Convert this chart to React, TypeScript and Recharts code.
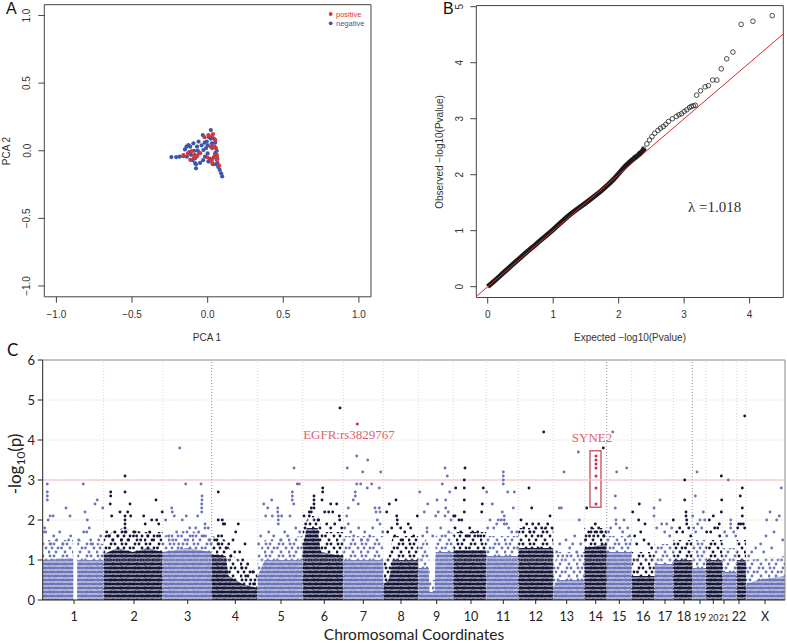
import React from 'react';
import { ComposedChart, Scatter, Line, Area, XAxis, YAxis, ReferenceLine, ReferenceArea } from 'recharts';

// ---------------- Panel A : PCA ----------------
const pcaTicks = [-1, -0.5, 0, 0.5, 1];
const pcaNegative: [number, number][] = [
  [-0.24, -0.047], [-0.208, -0.047], [-0.185, -0.044], [-0.16, -0.04], [-0.137, -0.044], [-0.127, 0.042],
  [-0.115, 0.03], [-0.12, -0.01], [-0.094, 0.055], [-0.083, -0.055], [-0.1, -0.07], [-0.077, -0.1],
  [-0.077, -0.13], [-0.06, 0.068], [-0.07, 0.03], [-0.05, -0.09], [-0.032, 0.116], [-0.028, 0.005],
  [-0.04, 0.04], [-0.02, 0.06], [-0.006, 0.068], [-0.01, 0.02], [0.0, -0.02], [0.005, -0.08],
  [-0.017, -0.044], [0.021, 0.153], [0.028, 0.055], [0.02, 0.09], [0.01, 0.1], [0.05, -0.018],
  [0.045, 0.03], [0.04, -0.05], [0.065, -0.091], [0.06, -0.04], [0.055, -0.1], [0.08, -0.142],
  [0.089, -0.167], [0.096, -0.19], [0.07, -0.12], [-0.083, -0.091], [-0.15, 0.01], [-0.14, 0.03],
  [-0.11, -0.03], [0.03, 0.02], [0.0, 0.04], [-0.03, -0.07], [0.015, -0.06], [0.035, -0.1],
  [0.06, 0.0], [0.05, 0.06], [-0.055, -0.02], [-0.09, 0.0], [-0.065, 0.0], [0.04, 0.09],
];
const pcaPositive: [number, number][] = [
  [-0.16, -0.032], [-0.105, -0.003], [-0.05, -0.018], [0.005, 0.116], [0.035, 0.123], [0.04, 0.03],
  [0.028, -0.067], [0.06, -0.067], [-0.115, -0.067], [-0.085, -0.03], [-0.07, -0.04], [0.05, 0.08],
  [0.055, 0.02], [0.045, -0.04], [0.03, -0.09], [0.06, -0.03], [0.075, -0.11], [0.02, 0.03],
  [-0.02, 0.1], [0.0, -0.05], [0.065, -0.06], [-0.09, -0.05], [0.03, 0.11], [-0.13, -0.02],
];
const pcaLegend = [
  { label: 'positive', color: '#d93535' },
  { label: 'negative', color: '#3d58a8' },
];

// ---------------- Panel B : QQ ----------------
const qqTicksX = [0, 1, 2, 3, 4];
const qqTicksY = [0, 1, 2, 3, 4, 5];
const qqDense: [number, number][] = [
  [0, 0], [0.1, 0.1], [0.25, 0.26], [0.5, 0.52], [0.75, 0.77], [1.0, 1.02], [1.25, 1.28],
  [1.5, 1.5], [1.75, 1.73], [1.9, 1.89], [2.0, 2.02], [2.1, 2.15], [2.2, 2.26], [2.3, 2.35], [2.4, 2.47],
];
const qqTail: [number, number][] = [
  [2.25, 2.31], [2.32, 2.38], [2.38, 2.46], [2.43, 2.55], [2.47, 2.62], [2.51, 2.68], [2.55, 2.74],
  [2.6, 2.79], [2.64, 2.83], [2.68, 2.86], [2.72, 2.9], [2.76, 2.95], [2.82, 3.0], [2.88, 3.04],
  [2.92, 3.07], [2.96, 3.09], [3.0, 3.13], [3.04, 3.16], [3.08, 3.2], [3.11, 3.22], [3.14, 3.23],
  [3.17, 3.24], [3.19, 3.42], [3.25, 3.5], [3.32, 3.57], [3.37, 3.59], [3.435, 3.69], [3.5, 3.69],
  [3.567, 3.89], [3.65, 4.07], [3.745, 4.19], [3.87, 4.685], [4.05, 4.74], [4.345, 4.84],
];
const qqLambda = 'λ =1.018';

// ---------------- Panel C : Manhattan ----------------
const chromosomeLabels = ['1', '2', '3', '4', '5', '6', '7', '8', '9', '10', '11', '12', '13', '14', '15', '16', '17', '18', '19', '20', '21', '22', 'X'];
const chromosomeStarts = [0, 61, 120, 169, 215, 260, 300.6, 340.6, 375.6, 410.6, 443.5, 475.6, 510.6, 541.6, 564, 589, 612, 630.6, 649.6, 663.3, 680, 694, 703.3];
const genomeEnd = 742.3;
const chromosomeTickPos = [31.3, 91.3, 145, 192.6, 238.3, 281.6, 320.6, 358.3, 394, 428.3, 460.6, 493, 524, 553, 576.6, 600.6, 622.3, 641.3, 657.3, 670.6, 681.3, 696.3, 722.3];
const emphasisedBoundaries = [3, 14, 18];
const manhattanYTicks = [0, 1, 2, 3, 4, 5, 6];
const significanceLine = 3;

// dense band envelopes: [position, -log10 p]
const coreEnvelopes: number[][][] = [
  [[0, 1.0], [30.5, 1.05], [30.6, 0], [34.5, 0], [34.6, 1.0], [61, 1.0]],
  [[61, 1.15], [75, 1.3], [90, 1.2], [105, 1.3], [120, 1.2]],
  [[120, 1.2], [145, 1.3], [169, 1.2]],
  [[169, 1.15], [183, 1.1], [186, 0.6], [200, 0.4], [215, 0.3]],
  [[215, 0.6], [222, 1.0], [260, 1.0]],
  [[260, 1.3], [264, 1.8], [275, 1.8], [278, 1.2], [300.6, 1.1]],
  [[300.6, 1.0], [340.6, 1.0]],
  [[340.6, 0.4], [346, 0.5], [350, 1.0], [375.6, 1.0]],
  [[375.6, 0.8], [386, 0.8], [387, 0.2], [392, 0.2], [393, 1.2], [410.6, 1.2]],
  [[410.6, 1.25], [443.5, 1.25]],
  [[443.5, 1.1], [475.6, 1.1]],
  [[475.6, 1.3], [510.6, 1.3]],
  [[510.6, 0.3], [515, 0.5], [541.6, 0.5]],
  [[541.6, 1.3], [564, 1.4]],
  [[564, 1.2], [589, 1.2]],
  [[589, 0.6], [612, 0.6]],
  [[612, 0.9], [630.6, 0.9]],
  [[630.6, 1.0], [649.6, 1.0]],
  [[649.6, 0.8], [663.3, 0.8]],
  [[663.3, 1.0], [680, 1.0]],
  [[680, 0.7], [694, 0.7]],
  [[694, 1.0], [703.3, 1.0]],
  [[703.3, 0.4], [715, 0.5], [742.3, 0.6]],
];
const fringeEnvelopes: number[][][] = [
  [[0, 1.5], [30.5, 1.5], [30.6, 0], [34.5, 0], [34.6, 1.5], [61, 1.4]],
  [[61, 1.6], [80, 1.8], [100, 1.7], [120, 1.7]],
  [[120, 1.6], [145, 1.75], [169, 1.6]],
  [[169, 1.6], [183, 1.5], [190, 1.1], [205, 0.9], [215, 0.7]],
  [[215, 1.1], [222, 1.5], [260, 1.6]],
  [[260, 1.8], [266, 2.1], [276, 2.1], [280, 1.7], [300.6, 1.7]],
  [[300.6, 1.6], [340.6, 1.6]],
  [[340.6, 0.9], [346, 1.1], [350, 1.6], [375.6, 1.6]],
  [[375.6, 1.3], [386, 1.6], [387, 0.5], [392, 0.5], [393, 1.6], [410.6, 1.7]],
  [[410.6, 1.7], [443.5, 1.7]],
  [[443.5, 1.6], [475.6, 1.6]],
  [[475.6, 1.8], [510.6, 1.8]],
  [[510.6, 0.8], [515, 1.2], [541.6, 1.2]],
  [[541.6, 1.8], [564, 1.8]],
  [[564, 1.6], [589, 1.6]],
  [[589, 1.2], [612, 1.2]],
  [[612, 1.4], [630.6, 1.4]],
  [[630.6, 1.5], [649.6, 1.5]],
  [[649.6, 1.5], [663.3, 1.5]],
  [[663.3, 1.5], [680, 1.5]],
  [[680, 1.3], [694, 1.3]],
  [[694, 1.5], [703.3, 1.5]],
  [[703.3, 1.0], [742.3, 1.1]],
];
// individual SNPs above the dense band: [position, -log10 p]
const chromosomeSparse: number[][][] = [
  [[4.6, 2.9], [4.6, 2.7], [4.6, 2.6], [4.6, 2.5], [5.5, 2.0], [7.5, 2.1], [10.5, 2.1], [2, 1.8], [3, 1.7], [1, 1.7], [23.3, 2.3], [27.3, 2.1], [40.6, 2.9], [42.3, 2.2], [44.6, 2.0], [46.6, 1.8], [52.3, 2.4], [54.6, 2.5], [60, 2.3], [11, 1.6], [17, 1.7], [28, 1.6], [41, 1.7], [44, 1.7], [58, 1.6], [14, 1.5], [20, 1.4], [36, 1.5], [48, 1.5], [50, 1.4], [8, 1.4], [26, 1.5], [56, 1.5]],
  [[82.3, 3.1], [82.3, 2.7], [68, 2.7], [68, 2.6], [67.5, 2.4], [69, 2.1], [77.3, 2.2], [82.3, 2.1], [82.3, 2.0], [82.3, 1.9], [82.3, 1.8], [82.3, 1.7], [85, 2.2], [88, 2.1], [87.3, 2.4], [101, 2.1], [102.5, 1.9], [113.3, 2.5], [114, 2.0], [116, 1.9], [119.5, 2.2], [109, 2.0], [64, 1.7], [66, 1.6], [72, 1.7], [75, 1.6], [79, 1.5], [91, 1.7], [94, 1.6], [98, 1.5], [105, 1.6], [107, 1.7], [111, 1.5], [117, 1.6], [70, 1.5], [86, 1.5]],
  [[137, 3.8], [143, 2.9], [158.3, 2.9], [159.3, 2.6], [159.3, 2.5], [159, 2.4], [159, 2.3], [159, 2.2], [129, 2.3], [129.6, 2.2], [131.6, 2.1], [143.6, 2.1], [155, 2.1], [123, 2.0], [139.6, 2.0], [162.3, 1.9], [162.3, 1.8], [147, 1.8], [153, 1.8], [165.6, 1.8], [126, 1.6], [134, 1.7], [150, 1.6], [156, 1.7], [161, 1.6], [145, 1.5], [130, 1.5], [167, 1.5], [136, 1.4]],
  [[175.6, 2.7], [175.6, 2.0], [179.6, 2.0], [182, 1.9], [180.6, 1.9], [195.6, 1.9], [193, 1.7], [179, 1.6], [175.6, 1.6], [190.3, 1.5], [202.3, 1.4], [172, 1.5], [176, 1.4], [186, 1.4], [192, 1.2], [197, 1.2], [200, 1.0], [205, 0.9], [210, 0.7], [208, 0.5], [188, 1.1], [184, 1.3], [199, 0.8], [203, 0.6], [206, 0.3], [212, 0.4]],
  [[221, 2.4], [225, 2.3], [229, 2.5], [223, 2.1], [229.6, 2.1], [235, 2.3], [235, 2.2], [235.6, 2.1], [235.6, 2.0], [235.6, 1.9], [239, 2.1], [251.3, 3.3], [249.6, 2.7], [249.6, 2.6], [249.6, 2.5], [251, 2.4], [254.6, 2.9], [256.6, 2.9], [247.3, 2.1], [218, 1.6], [226, 1.7], [231, 1.6], [242, 1.7], [245, 1.6], [253, 1.8], [257, 1.7], [238, 1.5], [216, 1.4]],
  [[297.3, 4.8], [280, 2.8], [280, 2.7], [279.3, 2.5], [271.3, 2.6], [271.3, 2.5], [271.3, 2.4], [271.3, 2.3], [268.6, 2.3], [268.6, 2.2], [266.6, 2.2], [266.6, 2.1], [288, 2.4], [294, 2.4], [282, 2.2], [286, 2.2], [290, 2.2], [296.6, 2.1], [261.3, 2.1], [297, 2.0], [292, 1.9], [276, 2.0], [284, 1.9], [263, 1.9], [288, 1.8], [299, 1.8]],
  [[314, 3.6], [325, 3.5], [304.6, 3.3], [320, 3.2], [338, 3.2], [314, 2.9], [318, 2.9], [329, 2.9], [324.6, 2.8], [336.6, 2.8], [312.6, 2.7], [312.6, 2.6], [310.6, 2.5], [315.6, 2.4], [305.6, 2.3], [332.3, 2.3], [336.6, 2.3], [333.3, 2.2], [337.3, 2.2], [304, 2.1], [305.6, 1.9], [334.6, 2.0], [337.3, 1.9], [302, 1.8], [308, 1.7], [316, 1.8], [322, 1.7], [327, 1.6], [330, 1.8], [340, 1.7], [311, 1.6], [319, 1.5], [325, 1.5]],
  [[353.3, 2.5], [346.6, 2.4], [344, 2.2], [354, 2.1], [354.6, 2.0], [354.6, 1.9], [374.6, 2.1], [365.6, 1.9], [349, 1.8], [358, 1.8], [362, 1.7], [368, 1.8], [371, 1.6], [345, 1.7], [352, 1.6], [360, 1.5]],
  [[402.3, 3.3], [404.6, 3.1], [399.6, 2.9], [377, 2.7], [407, 2.7], [385, 2.4], [394.3, 2.5], [403, 2.5], [403, 2.3], [405.6, 2.2], [402.3, 2.1], [381.6, 2.2], [393, 2.1], [395.6, 2.2], [408.3, 2.0], [384.3, 1.8], [384.3, 1.7], [398, 1.8], [390, 1.6], [406, 1.7], [380, 1.6]],
  [[422.3, 3.3], [421.6, 3.0], [421.6, 2.8], [421.6, 2.5], [421.6, 2.2], [413, 2.8], [411, 2.1], [412.3, 2.1], [416.3, 2.0], [419, 2.0], [412.3, 1.8], [440.6, 2.8], [439.6, 2.4], [439, 2.2], [432, 1.6], [438, 1.6], [427, 1.8], [435, 1.7], [418, 1.7], [425, 1.6], [430, 1.7]],
  [[460.6, 3.2], [460.6, 3.1], [460.6, 3.0], [460.6, 2.9], [444, 2.7], [449.6, 2.4], [465, 2.7], [471.6, 2.7], [470.6, 2.3], [459.6, 2.2], [461.6, 2.1], [458.6, 2.0], [461.6, 2.0], [461.6, 1.9], [455.6, 2.0], [447.3, 2.0], [454, 1.9], [445, 1.8], [451, 1.8], [466, 1.8], [469, 1.7], [474, 1.7], [464, 1.9]],
  [[486.3, 2.8], [489, 2.3], [478.3, 2.0], [487, 1.7], [499, 1.8], [501, 4.2], [507.3, 2.1], [509.3, 1.8], [481, 1.8], [484, 1.9], [493, 1.8], [496, 1.9], [503, 1.8], [505, 1.9], [490, 1.9]],
  [[535.6, 3.7], [521.3, 3.2], [516.6, 2.3], [518.6, 2.3], [536.6, 2.0], [532, 1.6], [523.3, 1.5], [517, 1.4], [527, 1.3], [530, 1.4], [514, 1.2], [538, 1.4], [520, 1.1], [534, 1.2]],
  [[544, 2.3], [560.6, 3.8], [552.6, 1.9], [549, 1.8], [556, 1.8], [558, 1.7], [546, 1.7], [554, 1.7], [551, 1.6], [561, 1.6], [543, 1.5]],
  [[570, 4.2], [574, 3.2], [584, 3.3], [572.6, 2.6], [572.6, 2.3], [573.3, 2.0], [573.3, 1.9], [581.3, 2.0], [568, 1.8], [577, 1.8], [585, 1.8], [566, 1.7], [580, 1.7], [587, 1.6]],
  [[596.6, 2.4], [590, 2.2], [596, 2.0], [602.3, 1.9], [601.3, 1.5], [592, 1.6], [598, 1.7], [606, 1.4], [609, 1.3], [594, 1.4]],
  [[617.3, 2.5], [611.3, 2.3], [611.3, 2.1], [619, 1.9], [624, 1.9], [614, 1.8], [622, 1.7], [627, 1.6], [629, 1.8]],
  [[642, 3.0], [642, 2.5], [643.3, 2.2], [643.3, 2.1], [644, 2.0], [644, 1.9], [630.6, 2.0], [637, 1.8], [640, 1.7], [646, 1.8], [634, 1.7], [648, 1.6]],
  [[654.3, 3.2], [652.6, 2.6], [650, 2.1], [660.6, 2.2], [657.3, 2.0], [662, 2.0], [655, 1.9], [651, 1.8], [659, 1.8], [653, 1.7]],
  [[678.6, 3.1], [670.6, 2.1], [678.6, 2.2], [666.6, 2.0], [676.6, 1.9], [679, 2.5], [672, 1.8], [668, 1.7], [675, 1.8], [664, 1.7], [677, 1.6]],
  [[685.6, 3.0], [688, 2.0], [688, 1.9], [688, 1.8], [682, 1.7], [691, 1.7], [684, 1.6], [693, 1.6]],
  [[702, 4.6], [699.6, 2.8], [697.6, 2.6], [699.6, 2.3], [699.6, 2.1], [696, 1.9], [698, 1.9], [700.6, 1.9], [702, 1.8], [695, 1.8]],
  [[738.6, 2.8], [727.3, 2.2], [724, 2.0], [736.6, 2.1], [731.3, 1.7], [723.3, 1.6], [734, 2.0], [718, 1.4], [713, 1.3], [740, 1.5], [709, 1.2], [729, 1.3], [721, 1.2], [706, 1.1]],
];
const highlightedSnps: [number, number][] = [
  [314.6, 4.4],
  [553.3, 3.6], [553.3, 3.5], [553.3, 3.4], [553.3, 3.3], [553.3, 3.1], [553.3, 2.8], [553.3, 2.4],
];
const annotations = [
  { x: 306.3, y: 4.15, label: 'EGFR:rs3829767' },
  { x: 549.3, y: 4.06, label: 'SYNE2' },
];
const syne2Box = { x1: 547.3, x2: 558.3, y1: 2.32, y2: 3.73 };

// ---------------- styling ----------------
const SANS = 'Liberation Sans, Arial, Helvetica, sans-serif';
const GILL = 'Lato, "Open Sans", sans-serif';
const SERIF = 'Liberation Serif, "Times New Roman", serif';
const BLUE = '#6c76b8';
const DARK = '#17173b';

const xy = (arr: number[][]) => arr.map(([x, y]) => ({ x, y }));
const fmtPca = (v: number) => (v < 0 ? '\u2212' + Math.abs(v).toFixed(1) : v.toFixed(1));

const blueSparse = xy(chromosomeSparse.filter((_, i) => i % 2 === 0).flat());
const darkSparse = xy(chromosomeSparse.filter((_, i) => i % 2 === 1).flat());

// one table for the band areas: a row per envelope position, a column per chromosome
const bandRows: any[] = (() => {
  const rows = new Map<number, any>();
  const put = (envs: number[][][], prefix: string) =>
    envs.forEach((env, i) =>
      env.forEach(([x, y]) => {
        const r = rows.get(x) ?? { x };
        r[prefix + i] = y;
        rows.set(x, r);
      })
    );
  put(fringeEnvelopes, 'f');
  put(coreEnvelopes, 'c');
  return [...rows.values()].sort((a, b) => a.x - b.x);
})();

const smallDot = (r: number) => (p: any) => <circle cx={p.cx} cy={p.cy} r={r} fill={p.fill} />;
const openCircle = (p: any) => <circle cx={p.cx} cy={p.cy} r={2.3} fill="none" stroke="#222" strokeWidth={0.8} />;
const annotationShape = (p: any) => (
  <text x={p.cx} y={p.cy} textAnchor="middle" dominantBaseline="central" fontFamily={SERIF} fontSize={13} fill="#e0606c">
    {p.payload.label}
  </text>
);

function PanelA() {
  const XTick = (p: any) => (
    <text x={p.x} y={314} textAnchor="middle" dominantBaseline="central" fontSize={10} fill="#333" fontFamily={SANS}>{fmtPca(p.payload.value)}</text>
  );
  const YTick = (p: any) => (
    <text x={27} y={p.y} transform={`rotate(-90 27 ${p.y})`} textAnchor="middle" dominantBaseline="central" fontSize={10} fill="#333" fontFamily={SANS}>{fmtPca(p.payload.value)}</text>
  );
  return (
    <ComposedChart width={390} height={350} margin={{ top: 4.7, left: 14.3, right: 19, bottom: 23.2 }}>
      <XAxis type="number" dataKey="x" domain={[-1.08, 1.08]} ticks={pcaTicks} interval={0} allowDataOverflow height={30} axisLine={false} tickSize={6} tickLine={{ stroke: '#444' }} tick={XTick} />
      <YAxis type="number" dataKey="y" domain={[-1.08, 1.08]} ticks={pcaTicks} interval={0} allowDataOverflow width={30} axisLine={false} tickSize={6} tickLine={{ stroke: '#444' }} tick={YTick} />
      <ReferenceArea x1={-1.08} x2={1.08} y1={-1.08} y2={1.08} fill="none" stroke="#444" strokeWidth={1} ifOverflow="visible" />
      <Scatter data={xy(pcaNegative)} fill="#3d58a8" shape={smallDot(2.1)} isAnimationActive={false} />
      <Scatter data={xy(pcaPositive)} fill="#d93535" shape={smallDot(2.1)} isAnimationActive={false} />
      {pcaLegend.map((l, i) => (
        <g key={l.label}>
          <circle cx={330.7} cy={14 + i * 9.3} r={1.9} fill={l.color} />
          <text x={336} y={14 + i * 9.3} dominantBaseline="central" fontSize={7.5} fill={l.color} fontFamily={SANS}>{l.label}</text>
        </g>
      ))}
      <text x={6} y={14} fontSize={16} fontFamily={SANS} fill="#111">A</text>
      <text x={207} y={337} textAnchor="middle" dominantBaseline="central" fontSize={10} fill="#333" fontFamily={SANS}>PCA 1</text>
      <text x={6} y={151} transform="rotate(-90 6 151)" textAnchor="middle" dominantBaseline="central" fontSize={10} fill="#333" fontFamily={SANS}>PCA 2</text>
    </ComposedChart>
  );
}

function PanelB() {
  const XTick = (p: any) => (
    <text x={p.x} y={314} textAnchor="middle" dominantBaseline="central" fontSize={10} fill="#333" fontFamily={SANS}>{p.payload.value}</text>
  );
  const YTick = (p: any) => (
    <text x={70} y={p.y} transform={`rotate(-90 70 ${p.y})`} textAnchor="middle" dominantBaseline="central" fontSize={10} fill="#333" fontFamily={SANS}>{p.payload.value}</text>
  );
  return (
    <ComposedChart width={397} height={350} margin={{ top: 5.6, left: 56.3, right: 3.7, bottom: 22.5 }}>
      <XAxis type="number" dataKey="x" domain={[-0.174, 4.514]} ticks={qqTicksX} interval={0} allowDataOverflow height={30} axisLine={false} tickSize={6} tickLine={{ stroke: '#444' }} tick={XTick} />
      <YAxis type="number" dataKey="y" domain={[-0.193, 5.02]} ticks={qqTicksY} interval={0} allowDataOverflow width={30} axisLine={false} tickSize={6} tickLine={{ stroke: '#444' }} tick={YTick} />
      <ReferenceArea x1={-0.174} x2={4.514} y1={-0.193} y2={5.02} fill="none" stroke="#444" strokeWidth={1} ifOverflow="visible" />
      <Line data={xy(qqDense)} dataKey="y" type="monotone" stroke="#1a1a1a" strokeWidth={5} dot={false} isAnimationActive={false} />
      <Scatter data={xy(qqTail)} shape={openCircle} isAnimationActive={false} />
      <ReferenceLine segment={[{ x: -0.174, y: -0.174 }, { x: 4.514, y: 4.514 }]} stroke="#d42a2a" strokeWidth={1} ifOverflow="hidden" />
      <text x={298} y={207} dominantBaseline="central" fontSize={15} fill="#333" fontFamily={SERIF}>{qqLambda}</text>
      <text x={53} y={14} fontSize={16} fontFamily={SANS} fill="#111">B</text>
      <text x={240} y={337} textAnchor="middle" dominantBaseline="central" fontSize={10} fill="#333" fontFamily={SANS}>Expected {'\u2212'}log10(Pvalue)</text>
      <text x={49} y={152} transform="rotate(-90 49 152)" textAnchor="middle" dominantBaseline="central" fontSize={10} fill="#333" fontFamily={SANS}>Observed {'\u2212'}log10(Pvalue)</text>
    </ComposedChart>
  );
}

function PanelC() {
  const labelSize = 12.5;
  const XTick = (p: any) => {
    const i = p.index;
    const lab = chromosomeLabels[i];
    const left = i > 0 ? chromosomeTickPos[i] - chromosomeTickPos[i - 1] : 99;
    const right = i < chromosomeTickPos.length - 1 ? chromosomeTickPos[i + 1] - chromosomeTickPos[i] : 99;
    const avail = Math.min(left, right) - 0.6;
    const fs = Math.min(labelSize, avail / (lab.length * 0.58));
    return (
      <text x={p.x} y={281} textAnchor="middle" fontSize={fs} fill="#222" fontFamily={GILL}>{lab}</text>
    );
  };
  const YTick = (p: any) => (
    <text x={35} y={p.y} textAnchor="end" dominantBaseline="central" fontSize={13} fill="#222" fontFamily={GILL}>{p.payload.value}</text>
  );
  const FRINGE_DOTS = [[2, 2], [6, 2], [15, 2], [19, 2], [4, 6], [10, 6], [13.5, 6], [22, 6], [1, 10], [8, 10], [17, 10]];
  return (
    <ComposedChart width={787} height={303} data={bandRows} margin={{ top: 20, left: 2.7, right: 2, bottom: 13 }}>
      <defs>
        <pattern id="coreB" patternUnits="userSpaceOnUse" x="0" y="-2" width="4" height="4">
          <rect x="0" y="0.5" width="4" height="3" fill={BLUE} />
        </pattern>
        <pattern id="coreD" patternUnits="userSpaceOnUse" x="0" y="-2" width="4" height="4">
          <rect x="0" y="0.5" width="4" height="3" fill={DARK} />
        </pattern>
        {[['fringeB', BLUE], ['fringeD', DARK]].map(([id, col]) => (
          <pattern key={id} id={id} patternUnits="userSpaceOnUse" x="0" y="-2" width="24" height="12">
            {FRINGE_DOTS.map(([cx, cy], k) => (
              <circle key={k} cx={cx} cy={cy} r={1.45} fill={col} />
            ))}
          </pattern>
        ))}
      </defs>
      <XAxis type="number" dataKey="x" domain={[0, genomeEnd]} ticks={chromosomeTickPos} interval={0} allowDataOverflow height={30} axisLine={{ stroke: '#222' }} tickSize={4} tickLine={{ stroke: '#222' }} tick={XTick} />
      <YAxis type="number" dataKey="y" domain={[0, 6]} ticks={manhattanYTicks} interval={0} allowDataOverflow width={40} axisLine={{ stroke: '#222' }} tickSize={5} tickLine={{ stroke: '#222' }} tick={YTick} />
      {manhattanYTicks.slice(1, 6).map((v) => (
        <ReferenceLine key={'h' + v} y={v} stroke="#d4d4d4" strokeDasharray="1 2" />
      ))}
      {chromosomeStarts.slice(1).map((b, i) => (
        <ReferenceLine key={'v' + i} x={b} stroke={emphasisedBoundaries.includes(i + 1) ? '#8a8a8a' : '#d4d4d4'} strokeDasharray="1 2" />
      ))}
      <ReferenceLine y={6} stroke="#888" />
      <ReferenceLine x={genomeEnd} stroke="#888" />
      <ReferenceLine y={significanceLine} stroke="#f3bcc4" strokeWidth={1} />
      {fringeEnvelopes.map((_, i) => (
        <Area key={'f' + i} dataKey={'f' + i} type="linear" connectNulls stroke="none" fill={`url(#fringe${i % 2 === 0 ? 'B' : 'D'})`} fillOpacity={1} dot={false} activeDot={false} isAnimationActive={false} />
      ))}
      {coreEnvelopes.map((_, i) => (
        <Area key={'c' + i} dataKey={'c' + i} type="linear" connectNulls stroke="none" fill={`url(#core${i % 2 === 0 ? 'B' : 'D'})`} fillOpacity={1} dot={false} activeDot={false} isAnimationActive={false} />
      ))}
      <Scatter data={blueSparse} fill={BLUE} shape={smallDot(1.45)} isAnimationActive={false} />
      <Scatter data={darkSparse} fill={DARK} shape={smallDot(1.45)} isAnimationActive={false} />
      <Scatter data={xy(highlightedSnps)} fill="#e3243a" shape={smallDot(1.5)} isAnimationActive={false} />
      <ReferenceArea x1={syne2Box.x1} x2={syne2Box.x2} y1={syne2Box.y1} y2={syne2Box.y2} fill="none" stroke="#d2606c" strokeWidth={1.5} ifOverflow="visible" />
      <Scatter data={annotations} shape={annotationShape} isAnimationActive={false} />
      <text x={7} y={16} fontSize={17} fontFamily={GILL} fill="#111">C</text>
      <text x={414} y={299.5} textAnchor="middle" fontSize={15.5} fill="#222" fontFamily={GILL}>Chromosomal Coordinates</text>
      <text transform="translate(15,124) rotate(-90)" textAnchor="middle" fontSize={17} fill="#222" fontFamily={GILL} dy={6}>
        <tspan>-log</tspan>
        <tspan fontSize={12} dy={4}>10</tspan>
        <tspan dy={-4}>(p)</tspan>
      </text>
    </ComposedChart>
  );
}

export default function App() {
  return (
    <div style={{ position: 'absolute', left: 0, top: 0, width: 787, height: 643, background: '#fff', overflow: 'hidden' }}>
      <div style={{ position: 'absolute', left: 0, top: 340 }}><PanelC /></div>
      <div style={{ position: 'absolute', left: 0, top: 0 }}><PanelA /></div>
      <div style={{ position: 'absolute', left: 390, top: 0 }}><PanelB /></div>
    </div>
  );
}
